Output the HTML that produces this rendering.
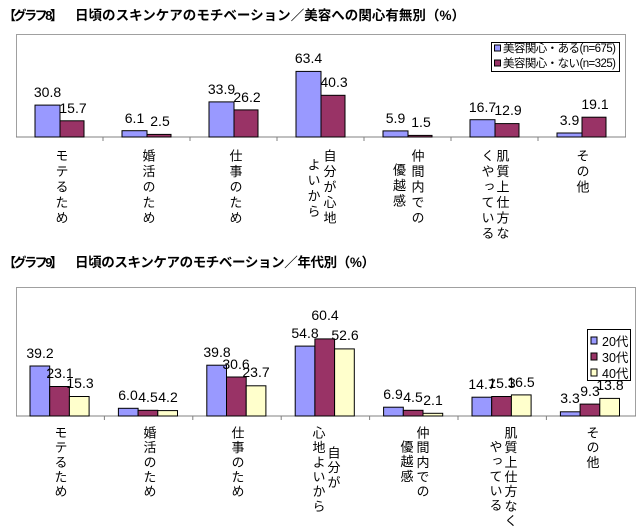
<!DOCTYPE html>
<html><head><meta charset="utf-8"><style>
body{margin:0;width:640px;height:526px;background:#fff;overflow:hidden;position:relative;font-family:"Liberation Sans","Noto Sans CJK JP",sans-serif}
svg{position:absolute;left:0;top:0}
.v{position:absolute;writing-mode:vertical-rl;font-size:13px;line-height:13px;color:#000;font-family:"Liberation Sans","Noto Sans CJK JP",sans-serif;white-space:nowrap}
.a{letter-spacing:2.5px}.b{letter-spacing:1.7px}
</style></head><body>
<svg width="640" height="526" font-family="Liberation Sans, Noto Sans CJK JP, sans-serif">
<text x="3" y="20" font-size="13" font-weight="bold" textLength="60">【グラフ8】</text>
<text x="75" y="20" font-size="13.5" font-weight="bold" textLength="390">日頃のスキンケアのモチベーション／美容への関心有無別（%）</text>
<text x="3" y="267" font-size="13" font-weight="bold" textLength="60">【グラフ9】</text>
<text x="75" y="267" font-size="13.5" font-weight="bold" textLength="300">日頃のスキンケアのモチベーション／年代別（%）</text>

<!-- chart 1 -->
<path d="M16.5 137V34.5H625.5V137" fill="none" stroke="#a0a0a0"/>
<line x1="16" y1="137" x2="626" y2="137" stroke="#808080"/>
<g stroke="#808080"><line x1="103" y1="137" x2="103" y2="141"/><line x1="190" y1="137" x2="190" y2="141"/><line x1="277" y1="137" x2="277" y2="141"/><line x1="364" y1="137" x2="364" y2="141"/><line x1="451" y1="137" x2="451" y2="141"/><line x1="538" y1="137" x2="538" y2="141"/></g>
<g stroke="#000" stroke-width="1">
<rect x="35" y="105.1" width="25" height="31.9" fill="#9999ff"/><rect x="60" y="120.8" width="24" height="16.2" fill="#993366"/>
<rect x="122" y="130.7" width="25" height="6.3" fill="#9999ff"/><rect x="147" y="134.4" width="24" height="2.6" fill="#993366"/>
<rect x="209" y="101.9" width="25" height="35.1" fill="#9999ff"/><rect x="234" y="109.9" width="24" height="27.1" fill="#993366"/>
<rect x="296" y="71.4" width="25" height="65.6" fill="#9999ff"/><rect x="321" y="95.3" width="24" height="41.7" fill="#993366"/>
<rect x="383" y="130.9" width="25" height="6.1" fill="#9999ff"/><rect x="408" y="135.4" width="24" height="1.6" fill="#993366"/>
<rect x="470" y="119.7" width="25" height="17.3" fill="#9999ff"/><rect x="495" y="123.6" width="24" height="13.4" fill="#993366"/>
<rect x="557" y="133" width="25" height="4" fill="#9999ff"/><rect x="582" y="117.2" width="24" height="19.8" fill="#993366"/>
</g>
<g font-size="14" text-anchor="middle">
<text x="47.5" y="97">30.8</text><text x="73" y="113">15.7</text>
<text x="134.5" y="123">6.1</text><text x="160" y="126">2.5</text>
<text x="221.5" y="94">33.9</text><text x="247" y="102">26.2</text>
<text x="308.5" y="63">63.4</text><text x="334" y="87">40.3</text>
<text x="395.5" y="123">5.9</text><text x="421" y="127">1.5</text>
<text x="482.5" y="112">16.7</text><text x="508" y="115">12.9</text>
<text x="569.5" y="125">3.9</text><text x="595" y="109">19.1</text>
</g>
<rect x="491.5" y="42.5" width="128" height="29" fill="#fff" stroke="#000"/>
<rect x="494.5" y="45" width="6" height="6" fill="#9999ff" stroke="#000"/>
<rect x="494.5" y="60" width="6" height="6" fill="#993366" stroke="#000"/>
<text x="503" y="52" font-size="11.5" textLength="113">美容関心・ある(n=675)</text>
<text x="503" y="67" font-size="11.5" textLength="113">美容関心・ない(n=325)</text>

<!-- chart 2 -->
<path d="M16.5 416V287.5H635.5V416" fill="none" stroke="#a0a0a0"/>
<line x1="16" y1="416" x2="636" y2="416" stroke="#808080"/>
<g stroke="#808080"><line x1="104.4" y1="416" x2="104.4" y2="420"/><line x1="192.8" y1="416" x2="192.8" y2="420"/><line x1="281.2" y1="416" x2="281.2" y2="420"/><line x1="369.6" y1="416" x2="369.6" y2="420"/><line x1="458" y1="416" x2="458" y2="420"/><line x1="546.4" y1="416" x2="546.4" y2="420"/></g>
<g stroke="#000" stroke-width="1">
<rect x="30" y="366" width="19.7" height="50" fill="#9999ff"/><rect x="49.7" y="386.5" width="19.7" height="29.5" fill="#993366"/><rect x="69.4" y="396.5" width="19.7" height="19.5" fill="#ffffcc"/>
<rect x="118.4" y="408.3" width="19.7" height="7.7" fill="#9999ff"/><rect x="138.1" y="410.3" width="19.7" height="5.7" fill="#993366"/><rect x="157.8" y="410.6" width="19.7" height="5.4" fill="#ffffcc"/>
<rect x="206.8" y="365.2" width="19.7" height="50.8" fill="#9999ff"/><rect x="226.5" y="377" width="19.7" height="39" fill="#993366"/><rect x="246.2" y="385.8" width="19.7" height="30.2" fill="#ffffcc"/>
<rect x="295.2" y="346.1" width="19.7" height="69.9" fill="#9999ff"/><rect x="314.9" y="338.9" width="19.7" height="77.1" fill="#993366"/><rect x="334.6" y="348.9" width="19.7" height="67.1" fill="#ffffcc"/>
<rect x="383.6" y="407.2" width="19.7" height="8.8" fill="#9999ff"/><rect x="403.3" y="410.3" width="19.7" height="5.7" fill="#993366"/><rect x="423" y="413.3" width="19.7" height="2.7" fill="#ffffcc"/>
<rect x="472" y="397.2" width="19.7" height="18.8" fill="#9999ff"/><rect x="491.7" y="396.5" width="19.7" height="19.5" fill="#993366"/><rect x="511.4" y="394.9" width="19.7" height="21.1" fill="#ffffcc"/>
<rect x="560.4" y="411.8" width="19.7" height="4.2" fill="#9999ff"/><rect x="580.1" y="404.1" width="19.7" height="11.9" fill="#993366"/><rect x="599.8" y="398.4" width="19.7" height="17.6" fill="#ffffcc"/>
</g>
<g font-size="14" text-anchor="middle">
<text x="40" y="358">39.2</text><text x="60" y="378">23.1</text><text x="80" y="388">15.3</text>
<text x="128" y="400">6.0</text><text x="148" y="402">4.5</text><text x="168" y="402">4.2</text>
<text x="217" y="357">39.8</text><text x="236" y="369">30.6</text><text x="256" y="377">23.7</text>
<text x="305" y="338">54.8</text><text x="325" y="320">60.4</text><text x="345" y="340">52.6</text>
<text x="393" y="399">6.9</text><text x="413" y="402">4.5</text><text x="433" y="405">2.1</text>
<text x="482" y="389">14.7</text><text x="502" y="388">15.3</text><text x="521" y="387">16.5</text>
<text x="570" y="403">3.3</text><text x="590" y="396">9.3</text><text x="610" y="390">13.8</text>
</g>
<rect x="587.5" y="329.5" width="43" height="51" fill="#fff" stroke="#000"/>
<rect x="591" y="337" width="6" height="7" fill="#9999ff" stroke="#000"/>
<rect x="591" y="353" width="6" height="7" fill="#993366" stroke="#000"/>
<rect x="591" y="369" width="6" height="7" fill="#ffffcc" stroke="#000"/>
<text x="602" y="346" font-size="12.5">20代</text>
<text x="602" y="362" font-size="12.5">30代</text>
<text x="602" y="378" font-size="12.5">40代</text>
</svg>

<!-- chart 1 category labels -->
<div class="v a" style="left:54.5px;top:149px">モテるため</div>
<div class="v a" style="left:141.5px;top:149px">婚活のため</div>
<div class="v a" style="left:228.5px;top:149px">仕事のため</div>
<div class="v a" style="left:322.5px;top:149px">自分が心地</div>
<div class="v a" style="left:306.5px;top:158px">よいから</div>
<div class="v a" style="left:410.5px;top:149px">仲間内での</div>
<div class="v a" style="left:392px;top:163px">優越感</div>
<div class="v a" style="left:495.5px;top:149px">肌質上仕方な</div>
<div class="v a" style="left:480.5px;top:149px">くやっている</div>
<div class="v a" style="left:575.5px;top:149px">その他</div>

<!-- chart 2 category labels -->
<div class="v b" style="left:53.5px;top:426px">モテるため</div>
<div class="v b" style="left:142.5px;top:426px">婚活のため</div>
<div class="v b" style="left:230.5px;top:426px">仕事のため</div>
<div class="v b" style="left:311.5px;top:426px">心地よいから</div>
<div class="v b" style="left:326.5px;top:446px">自分が</div>
<div class="v b" style="left:415.5px;top:426px">仲間内での</div>
<div class="v b" style="left:399.5px;top:440px">優越感</div>
<div class="v b" style="left:503.5px;top:426px">肌質上仕方なく</div>
<div class="v b" style="left:488.5px;top:440px">やっている</div>
<div class="v b" style="left:585.5px;top:426px">その他</div>
</body></html>
